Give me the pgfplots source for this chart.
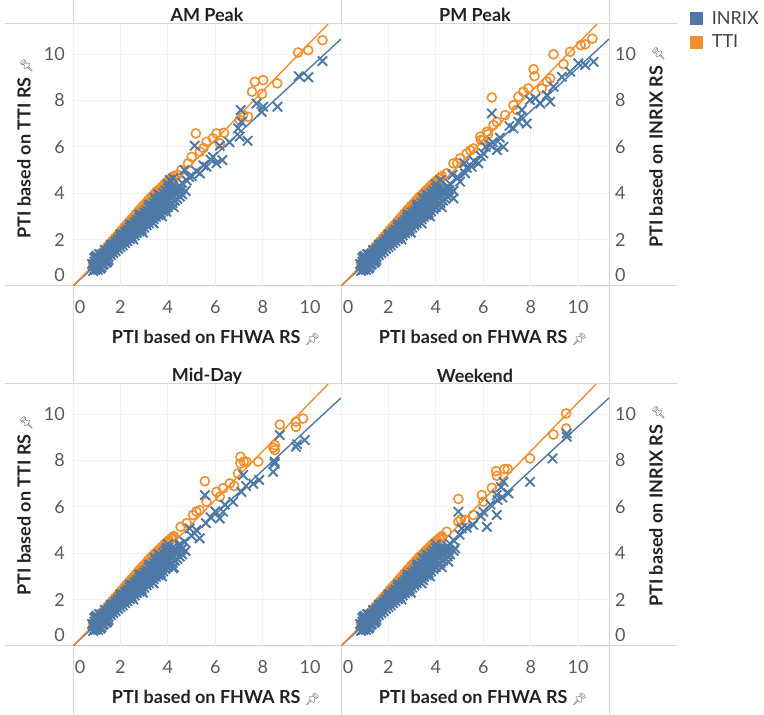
\documentclass[border=0pt]{standalone}
\usepackage{pgfplots}
\pgfplotsset{compat=1.18}
\usepackage{pgfplotstable}
\usepackage{fontspec}
\setmainfont{Lato}
\newfontfamily\emojifont{Noto Emoji}
\definecolor{inrix}{HTML}{4E79A7}
\definecolor{tti}{HTML}{F28E2B}
\definecolor{sepc}{HTML}{D4D4D4}
\definecolor{gridc}{HTML}{F0F0F0}
\definecolor{tickc}{HTML}{5A5A5A}
\definecolor{titc}{HTML}{222222}

% shared dense core (x = PTI FHWA RS, y = PTI other RS)
\pgfplotstableread{
x y
0.90 0.72
1.00 0.80
1.10 0.90
1.20 0.98
1.30 1.08
1.40 1.15
1.50 1.25
1.60 1.33
1.70 1.42
1.80 1.50
1.90 1.60
2.00 1.68
2.10 1.75
2.20 1.85
2.30 1.93
2.40 2.02
2.50 2.10
2.60 2.18
2.70 2.28
2.80 2.35
2.90 2.45
3.00 2.52
3.10 2.62
3.20 2.70
3.30 2.80
3.40 2.88
3.50 2.98
3.60 3.05
3.70 3.15
3.80 3.22
3.90 3.32
4.00 3.40
4.10 3.50
4.20 3.58
4.30 3.68
4.40 3.76
4.50 3.86
4.60 3.95
4.75 4.10
0.95 0.86
1.05 0.95
1.15 1.04
1.25 1.14
1.35 1.23
1.45 1.32
1.55 1.41
1.65 1.50
1.75 1.59
1.85 1.68
1.95 1.77
2.05 1.86
2.15 1.96
2.25 2.05
2.35 2.14
2.45 2.23
2.55 2.32
2.65 2.41
2.75 2.50
2.85 2.59
2.95 2.68
3.05 2.78
3.15 2.87
3.25 2.96
3.35 3.05
3.45 3.14
3.55 3.23
3.65 3.32
3.75 3.41
3.85 3.50
3.95 3.59
4.05 3.69
4.15 3.78
4.25 3.87
4.35 3.96
4.45 4.05
4.55 4.14
0.85 0.85
0.95 0.92
1.05 1.02
1.15 1.10
1.25 1.20
1.35 1.30
1.45 1.40
1.55 1.48
1.65 1.58
1.75 1.68
1.85 1.78
1.95 1.87
2.05 1.97
2.15 2.06
2.25 2.16
2.35 2.25
2.45 2.35
2.55 2.45
2.65 2.54
2.75 2.64
2.85 2.74
2.95 2.83
3.05 2.93
3.15 3.02
3.25 3.12
3.35 3.22
3.45 3.31
3.55 3.41
3.65 3.50
3.75 3.60
3.85 3.70
3.95 3.79
4.05 3.89
4.15 3.98
4.25 4.08
4.35 4.18
4.50 4.30
0.90 0.91
1.00 1.01
1.10 1.11
1.20 1.21
1.30 1.31
1.40 1.41
1.50 1.52
1.60 1.62
1.70 1.72
1.80 1.82
1.90 1.92
2.00 2.02
2.10 2.12
2.20 2.22
2.30 2.32
2.40 2.42
2.50 2.53
2.60 2.63
2.70 2.73
2.80 2.83
2.90 2.93
3.00 3.03
3.10 3.13
3.20 3.23
3.30 3.33
3.40 3.43
3.50 3.54
3.60 3.64
3.70 3.74
3.80 3.84
3.90 3.94
4.00 4.04
4.10 4.14
4.20 4.24
0.90 1.05
1.00 1.12
1.10 1.20
1.20 1.30
1.30 1.40
1.40 1.50
1.50 1.60
1.60 1.70
1.70 1.80
1.80 1.90
1.90 2.01
2.00 2.12
2.10 2.22
2.20 2.33
2.30 2.43
2.40 2.54
2.50 2.64
2.60 2.75
2.70 2.85
2.80 2.96
2.90 3.06
3.00 3.17
3.10 3.27
3.20 3.38
3.30 3.48
3.40 3.59
3.50 3.69
3.60 3.80
3.70 3.90
3.80 4.01
3.90 4.11
4.00 4.22
1.20 1.35
1.60 1.78
2.00 2.22
2.40 2.65
2.80 3.08
3.20 3.50
3.45 3.80
3.60 3.95
4.00 4.38
0.95 1.25
1.05 0.70
1.15 1.35
1.25 0.90
0.80 0.95
1.35 1.55
1.45 1.05
0.85 0.65
0.95 0.70
1.00 1.30
1.10 1.38
1.20 0.80
1.30 0.95
1.40 1.00
1.50 1.12
0.90 1.20
1.05 0.85
1.15 0.75
2.55 2.00
2.95 2.30
3.40 2.70
3.75 3.00
4.25 3.40
}\coreinrix
\pgfplotstableread{
x y
0.85 0.95
0.95 1.08
1.05 1.20
1.15 1.32
1.25 1.42
1.35 1.55
1.45 1.65
1.55 1.76
1.65 1.88
1.75 1.98
1.85 2.10
1.95 2.22
2.05 2.33
2.15 2.44
2.25 2.56
2.35 2.66
2.45 2.78
2.55 2.88
2.65 3.00
2.75 3.12
2.85 3.22
2.95 3.34
3.05 3.45
3.15 3.55
3.25 3.68
3.35 3.78
3.45 3.88
3.55 4.00
3.65 4.10
3.75 4.20
3.85 4.32
3.95 4.42
4.05 4.52
4.15 4.62
4.25 4.72
0.85 1.00
0.95 1.11
1.05 1.23
1.15 1.35
1.25 1.46
1.35 1.58
1.45 1.70
1.55 1.81
1.65 1.93
1.75 2.05
1.85 2.16
1.95 2.28
2.05 2.40
2.15 2.52
2.25 2.63
2.35 2.75
2.45 2.87
2.55 2.98
2.65 3.10
2.75 3.22
2.85 3.33
2.95 3.45
3.05 3.55
3.15 3.66
3.25 3.78
3.35 3.88
3.45 3.98
3.55 4.08
3.65 4.18
3.75 4.28
3.85 4.38
3.95 4.48
4.05 4.56
4.15 4.65
4.25 4.74
}\coretti

% AM Peak
\pgfplotstableread{
x y
5.13 6.05
10.52 9.70
9.52 9.05
9.92 9.00
7.07 7.59
7.74 7.87
8.02 7.73
8.62 7.73
7.95 7.51
6.96 6.80
7.03 6.44
7.36 6.26
7.10 7.08
6.19 6.05
5.90 5.57
6.30 5.43
6.05 5.29
5.63 5.14
5.35 4.86
4.22 4.64
4.08 4.57
3.94 3.20
4.70 5.00
5.00 4.75
4.60 4.45
4.80 4.55
5.20 4.95
5.50 5.20
5.80 5.45
4.40 4.20
4.90 4.70
6.60 6.20
}\aminrix
\pgfplotstableread{
x y
5.18 6.58
10.52 10.60
9.92 10.17
9.49 10.07
8.61 8.74
8.02 8.88
7.67 8.81
7.55 8.38
7.97 8.28
7.17 7.37
7.38 7.30
7.03 7.16
6.37 6.61
6.05 6.58
5.90 6.37
5.63 6.22
6.19 6.15
5.35 5.79
5.00 5.57
4.85 5.29
4.57 5.00
4.15 4.57
4.40 4.80
5.50 5.95
3.52 4.07
3.09 3.56
}\amtti

% PM Peak
\pgfplotstableread{
x y
10.65 9.67
10.30 9.53
10.01 9.60
9.66 9.24
9.31 9.02
8.96 8.59
8.68 8.23
8.82 7.95
8.40 7.87
7.97 8.02
6.36 7.44
7.62 7.59
7.48 7.08
7.27 6.80
7.83 7.01
6.85 6.00
6.57 5.86
6.29 6.08
6.00 5.72
5.79 5.29
5.51 5.14
5.23 4.86
4.74 3.78
5.02 4.50
4.18 4.57
8.20 8.10
7.60 7.30
7.10 6.90
6.70 6.40
6.40 6.20
5.90 5.60
5.60 5.40
5.30 5.10
4.90 4.70
4.60 4.40
4.30 4.10
4.70 4.80
5.20 5.30
6.10 6.00
}\pminrix
\pgfplotstableread{
x y
10.60 10.67
10.30 10.42
10.11 10.39
9.66 10.10
8.96 9.99
9.38 9.57
8.12 9.35
8.16 9.05
8.82 8.95
8.68 8.81
8.47 8.52
7.90 8.52
7.69 8.38
7.48 8.16
6.36 8.13
7.27 7.80
7.41 7.59
6.92 7.37
6.57 7.08
6.43 6.94
6.15 6.65
5.87 6.44
6.00 6.29
5.58 5.93
5.30 5.72
5.02 5.50
4.74 5.29
4.46 4.86
4.10 4.50
6.20 6.55
5.90 6.30
5.45 5.85
4.90 5.30
}\pmtti

% Mid-Day
\pgfplotstableread{
x y
9.77 8.88
9.40 8.59
9.45 8.70
8.72 9.10
8.51 7.87
8.44 7.51
8.50 7.95
7.85 7.16
7.60 7.00
7.17 7.37
7.10 6.65
7.30 6.90
6.75 6.22
5.56 6.51
6.33 5.79
6.19 5.50
6.40 6.10
6.00 5.80
5.34 4.64
4.92 5.07
5.20 5.00
5.60 5.30
5.80 5.55
4.22 3.35
3.94 4.21
4.50 4.40
4.70 4.50
5.00 4.75
4.30 4.10
4.60 4.20
}\mdinrix
\pgfplotstableread{
x y
9.70 9.81
9.40 9.67
9.40 9.45
8.72 9.55
8.51 8.66
8.51 8.45
8.45 8.55
7.81 7.95
7.31 7.95
7.06 8.16
7.06 7.87
7.20 7.95
6.96 7.44
5.56 7.11
6.61 7.01
6.80 6.90
6.33 6.80
6.05 6.65
6.19 6.44
5.63 6.22
5.34 5.86
5.06 5.65
5.20 5.80
4.54 5.14
4.80 5.30
4.22 4.64
3.94 4.35
3.52 3.92
}\mdtti

% Weekend
\pgfplotstableread{
x y
9.52 9.17
9.52 9.02
8.92 8.09
7.97 7.08
7.06 6.58
6.85 7.08
6.75 6.85
6.57 6.51
6.57 5.65
6.15 5.14
6.00 5.79
4.95 5.79
5.58 5.22
5.09 5.07
4.74 4.57
4.53 3.64
4.81 4.21
3.47 2.84
6.30 6.10
6.60 6.30
5.90 5.60
5.30 5.10
4.60 4.40
4.40 4.20
5.00 4.80
6.80 6.40
}\weinrix
\pgfplotstableread{
x y
9.49 10.03
9.49 9.38
8.96 9.12
7.97 8.09
7.03 7.63
6.89 7.63
6.54 7.54
6.57 7.34
6.36 6.82
5.94 6.51
6.00 6.22
4.95 6.34
5.58 5.65
5.23 5.43
4.95 5.36
5.05 5.45
4.46 4.93
4.25 4.64
3.90 4.28
3.33 3.85
2.98 3.42
}\wetti

\pgfplotsset{
  pane/.style={
    scale only axis, width=268pt, height=262pt,
    anchor=south west,
    xmin=0, xmax=11.3, ymin=0, ymax=11.3,
    xtick={0,2,...,10}, ytick={0,2,...,10},
    xticklabels={{\hspace{14pt}0},2,4,6,8,10},
    yticklabels={{\raisebox{22pt}{0}},2,4,6,8,10},
    axis line style={draw=none},
    major tick length=0pt,
    grid=major, grid style={gridc, line width=0.9pt},
    tick label style={font=\fontsize{18}{20}\selectfont, text=tickc},
    xticklabel style={anchor=center, inner sep=0pt, yshift=-21pt},
  },
  leftpane/.style={pane, yticklabel style={anchor=east, inner sep=0pt, xshift=-8pt}},
  rightpane/.style={pane, yticklabel pos=right, yticklabel style={anchor=west, inner sep=0pt, xshift=6pt}},
  ttimarks/.style={only marks, mark=o, mark size=4.5pt, mark options={line width=1.6pt}, color=tti},
  inrixmarks/.style={only marks, mark=x, mark size=6.6pt, mark options={line width=1.9pt}, color=inrix},
  trend/.style={no marks, line width=1.4pt},
}

\newcommand{\pin}{{\fontsize{12}{12}\selectfont\emojifont\color{tickc}📌}}
\newcommand{\ttl}{\fontsize{18}{20}\selectfont\bfseries\color{titc}}

\begin{document}
\begin{tikzpicture}
\path[use as bounding box] (0pt,0pt) rectangle (764pt,715pt);

% separators
\foreach \xx in {73,341,609} \draw[sepc, line width=1pt] (\xx pt,0pt) -- (\xx pt,715pt);
\foreach \yy in {691,429,331,69} \draw[sepc, line width=1pt] (5pt,\yy pt) -- (677pt,\yy pt);

% AM Peak
\begin{axis}[leftpane, at={(73pt,429pt)}]
\addplot[ttimarks] table[x=x,y=y] {\coretti};
\addplot[ttimarks] table[x=x,y=y] {\amtti};
\addplot[inrixmarks] table[x=x,y=y] {\coreinrix};
\addplot[inrixmarks] table[x=x,y=y] {\aminrix};
\addplot[trend, inrix] coordinates {(0,0) (11.3,10.65)};
\addplot[trend, tti] coordinates {(0,0) (10.76,11.3)};
\end{axis}

% PM Peak
\begin{axis}[rightpane, at={(341pt,429pt)},
  legend style={at={(axis description cs:1.29,1.063)}, anchor=north west, draw=none, fill=none,
    font=\fontsize{18}{20}\selectfont, text=titc!85, row sep=5pt},
  legend cell align=left]
\addlegendimage{legend image code/.code={\fill[inrix, draw=none] (0pt,-6.5pt) rectangle (13pt,6.5pt); \path[draw=none, fill=none] (13pt,0pt) -- (20pt,0pt);}}
\addlegendentry{INRIX}
\addlegendimage{legend image code/.code={\fill[tti, draw=none] (0pt,-6.5pt) rectangle (13pt,6.5pt); \path[draw=none, fill=none] (13pt,0pt) -- (20pt,0pt);}}
\addlegendentry{TTI}
\addplot[ttimarks, forget plot] table[x=x,y=y] {\coretti};
\addplot[ttimarks, forget plot] table[x=x,y=y] {\pmtti};
\addplot[inrixmarks, forget plot] table[x=x,y=y] {\coreinrix};
\addplot[inrixmarks, forget plot] table[x=x,y=y] {\pminrix};
\addplot[trend, inrix, forget plot] coordinates {(0,0) (11.3,10.65)};
\addplot[trend, tti, forget plot] coordinates {(0,0) (10.8,11.3)};
\end{axis}

% Mid-Day
\begin{axis}[leftpane, at={(73pt,69pt)}]
\addplot[ttimarks] table[x=x,y=y] {\coretti};
\addplot[ttimarks] table[x=x,y=y] {\mdtti};
\addplot[inrixmarks] table[x=x,y=y] {\coreinrix};
\addplot[inrixmarks] table[x=x,y=y] {\mdinrix};
\addplot[trend, inrix] coordinates {(0,0) (11.3,10.7)};
\addplot[trend, tti] coordinates {(0,0) (10.76,11.3)};
\end{axis}

% Weekend
\begin{axis}[rightpane, at={(341pt,69pt)}]
\addplot[ttimarks] table[x=x,y=y] {\coretti};
\addplot[ttimarks] table[x=x,y=y] {\wetti};
\addplot[inrixmarks] table[x=x,y=y] {\coreinrix};
\addplot[inrixmarks] table[x=x,y=y] {\weinrix};
\addplot[trend, inrix] coordinates {(0,0) (11.3,10.7)};
\addplot[trend, tti] coordinates {(0,0) (10.76,11.3)};
\end{axis}

% titles
\node at (207pt,700pt) {\ttl AM Peak};
\node at (475pt,700pt) {\ttl PM Peak};
\node at (207pt,339pt) {\ttl Mid-Day};
\node at (475pt,339pt) {\ttl Weekend};

% x titles
\node at (216pt,377pt) {\ttl PTI based on FHWA RS \pin};
\node at (483pt,377pt) {\ttl PTI based on FHWA RS \pin};
\node at (216pt,17pt) {\ttl PTI based on FHWA RS \pin};
\node at (483pt,17pt) {\ttl PTI based on FHWA RS \pin};

% y titles
\node[rotate=90] at (25pt,567pt) {\ttl PTI based on TTI RS \pin};
\node[rotate=90] at (25pt,210pt) {\ttl PTI based on TTI RS \pin};
\node[rotate=90] at (657pt,568pt) {\ttl PTI based on INRIX RS \pin};
\node[rotate=90] at (657pt,209pt) {\ttl PTI based on INRIX RS \pin};
\end{tikzpicture}
\end{document}
